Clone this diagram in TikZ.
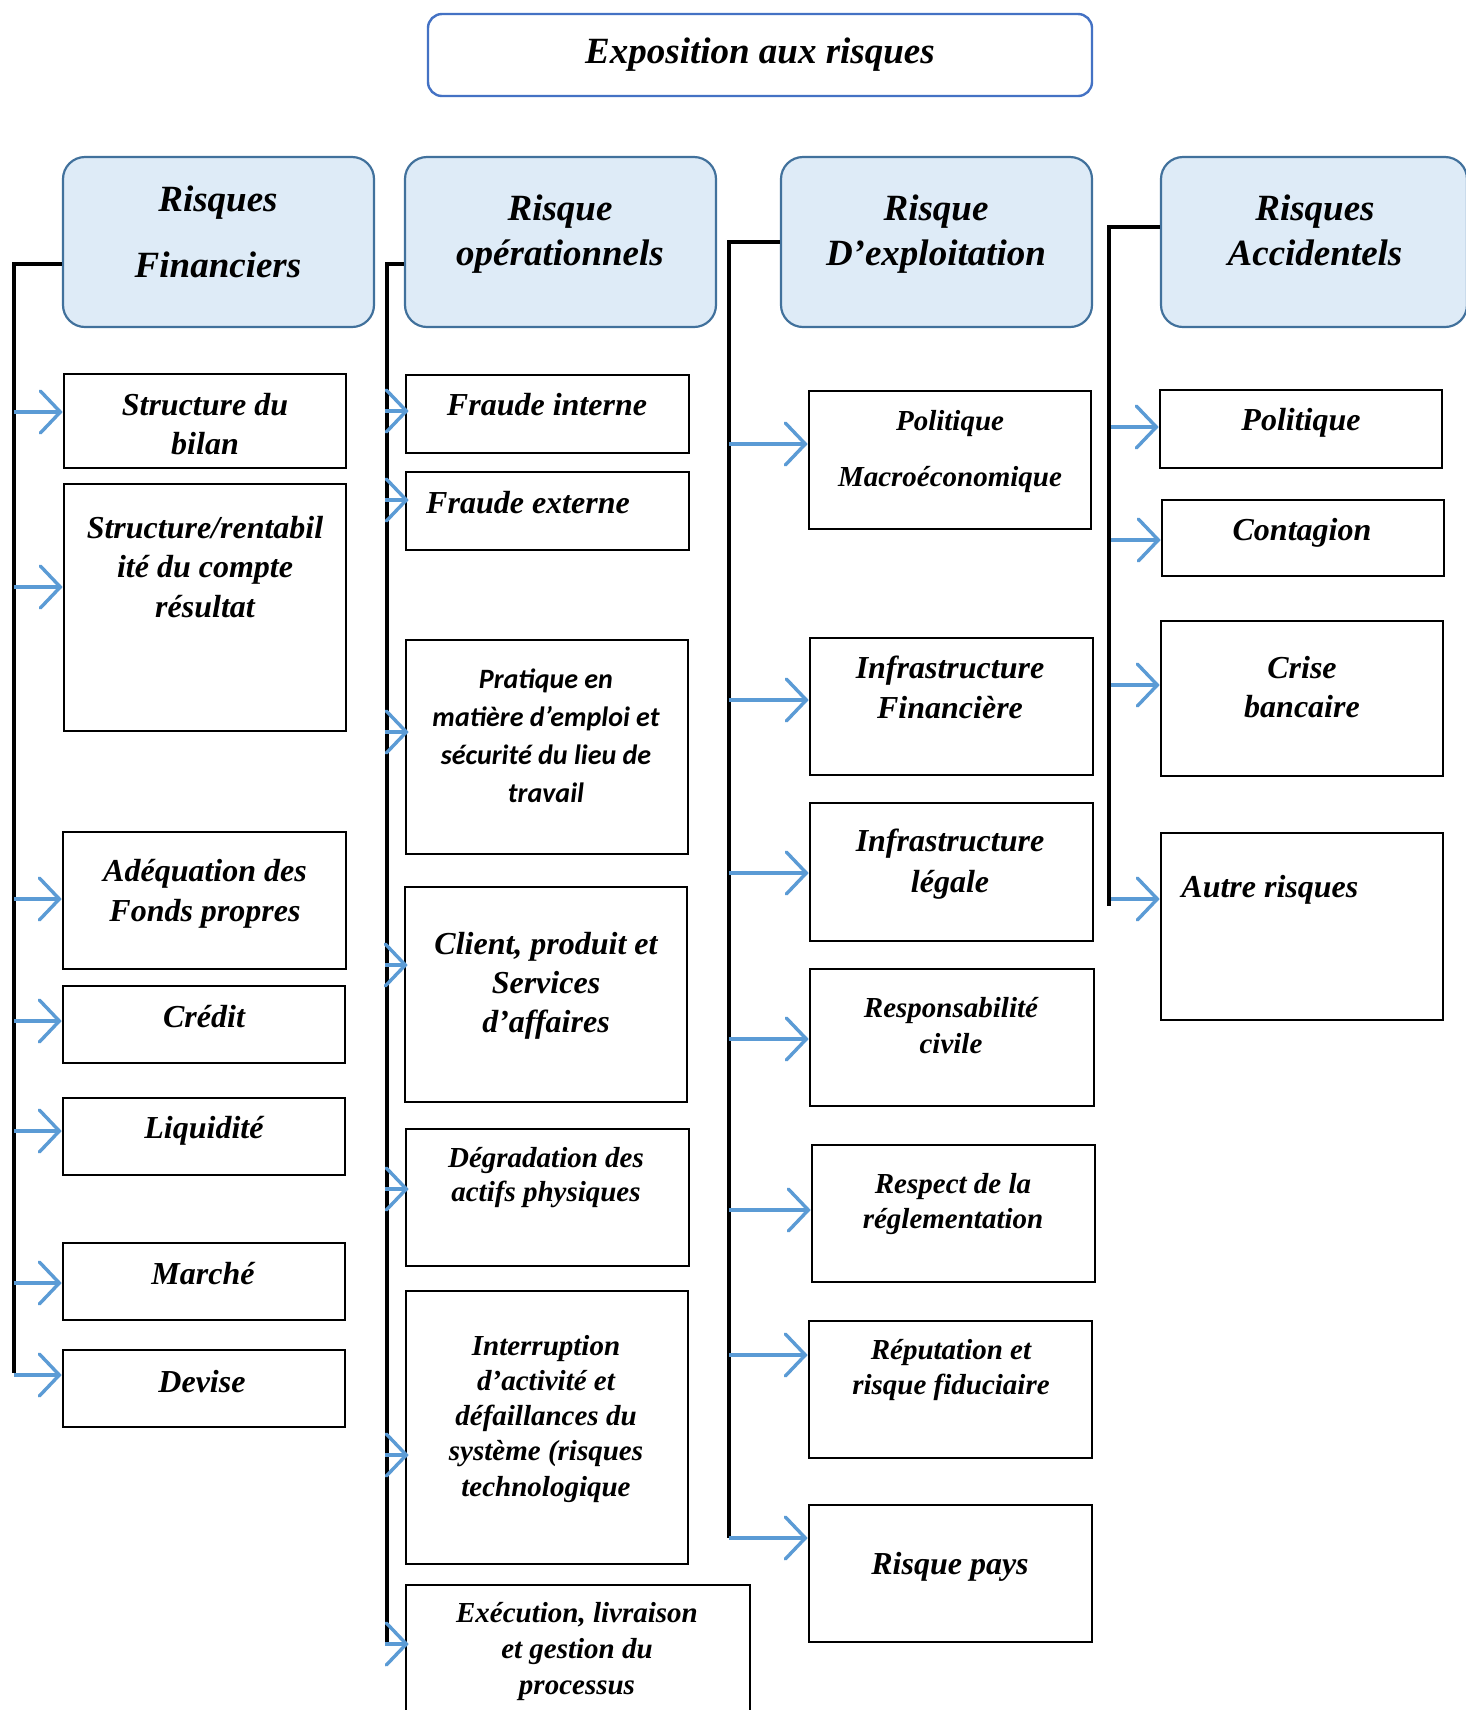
\documentclass[tikz,border=0pt]{standalone}
\usepackage{fontspec}
\setmainfont{Liberation Serif}
\newfontfamily\calibfont{Carlito}
\usetikzlibrary{arrows.meta,fit}
\definecolor{arrblue}{HTML}{5B9BD5}
\definecolor{hdrfill}{HTML}{DEEBF7}
\definecolor{hdrdraw}{HTML}{41719C}
\definecolor{ttldraw}{HTML}{4472C4}
% bold italic at a given size / baseline skip
\newcommand\bfi[2]{\fontsize{#1}{#2}\selectfont\bfseries\itshape}

\begin{document}
% text nodes are placed by the baseline of their last line
\begin{tikzpicture}[x=0.5pt,y=-0.5pt,
  hdr/.style={draw=hdrdraw, fill=hdrfill, line width=1.1pt, rounded corners=11pt, inner sep=0pt},
  ttl/.style={draw=ttldraw, line width=1.2pt, rounded corners=7pt, inner sep=0pt},
  item/.style={draw=black, line width=1.3pt, inner sep=0pt},
  lbl/.style={inner sep=0pt, align=center, anchor=base},
  conn/.style={draw=black, line width=1.6pt},
  arr/.style={draw=arrblue, line width=1.7pt, -{Straight Barb[length=10pt,width=21pt,line cap=round]}}]

\path[use as bounding box, fill=white] (0,0) rectangle (1466,1710);

% ---- title ----
\node[ttl, fit={(428,14) (1092,96)}] (title) {};
\node[lbl, font=\bfi{18.5}{22}] (title-t) at (760,63) {Exposition aux risques};

% ---- category headers ----
\node[hdr, fit={(63,157) (374,327)}] (hfin) {};
\node[lbl, font=\bfi{18.5}{33}] (hfin-t) at (218,277) {Risques\\Financiers};
\node[hdr, fit={(405,157) (716,327)}] (hop) {};
\node[lbl, font=\bfi{18.5}{22.5}] (hop-t) at (560,265) {Risque\\opérationnels};
\node[hdr, fit={(781,157) (1092,327)}] (hex) {};
\node[lbl, font=\bfi{18.5}{22.5}] (hex-t) at (936,265) {Risque\\D’exploitation};
\node[hdr, fit={(1161,157) (1467,327)}] (hac) {};
\node[lbl, font=\bfi{18.5}{22.5}] (hac-t) at (1315,265) {Risques\\Accidentels};

% ---- trunk lines ----
\coordinate (c1t) at (14,264);   \coordinate (c1b) at (14,1373);
\coordinate (c2t) at (387,264);  \coordinate (c2b) at (387,1645);
\coordinate (c3t) at (729,242);  \coordinate (c3b) at (729,1538);
\coordinate (c4t) at (1109,227); \coordinate (c4b) at (1109,906);
\draw[conn] (c1t -| hfin.west) -- (c1t) -- (c1b);
\draw[conn] (c2t -| hop.west) -- (c2t) -- (c2b);
\draw[conn] (c3t -| hex.west) -- (c3t) -- (c3b);
\draw[conn] (c4t -| hac.west) -- (c4t) -- (c4b);

% ---- financial risks ----
\node[item, fit={(64,374) (346,468)}] (bilan) {};
\node[lbl, font=\bfi{16}{19.5}] (bilan-t) at (205,454) {Structure du\\bilan};
\node[item, fit={(64,484) (346,731)}] (rentab) {};
\node[lbl, font=\bfi{16}{19.75}] (rentab-t) at (205,617) {Structure/rentabil\\ité du compte\\résultat};
\node[item, fit={(63,832) (346,969)}] (adeq) {};
\node[lbl, font=\bfi{16}{20}] (adeq-t) at (205,921) {Adéquation des\\Fonds propres};
\node[item, fit={(63,986) (345,1063)}] (credit) {};
\node[lbl, font=\bfi{16}{19.5}] (credit-t) at (204,1027) {Crédit};
\node[item, fit={(63,1098) (345,1175)}] (liq) {};
\node[lbl, font=\bfi{16}{19.5}] (liq-t) at (204,1138) {Liquidité};
\node[item, fit={(63,1243) (345,1320)}] (marche) {};
\node[lbl, font=\bfi{16}{19.5}] (marche-t) at (203,1284) {Marché};
\node[item, fit={(63,1350) (345,1427)}] (devise) {};
\node[lbl, font=\bfi{16}{19.5}] (devise-t) at (202,1392) {Devise};

\foreach \n/\y in {bilan/412, rentab/587, adeq/899, credit/1021, liq/1131, marche/1283, devise/1375}{
  \coordinate (s-\n) at (14,\y);
  \draw[arr] (s-\n) -- (s-\n -| \n.west);
}

% ---- operational risks ----
\node[item, fit={(406,375) (689,453)}] (fint) {};
\node[lbl, font=\bfi{16}{19.5}] (fint-t) at (547,415) {Fraude interne};
\node[item, fit={(406,472) (689,550)}] (fext) {};
\node[lbl, font=\bfi{16}{19.5}] (fext-t) at (528,513) {Fraude externe};
\node[item, fit={(406,640) (688,854)}] (prat) {};
\node[lbl, font={\calibfont\fontsize{14}{19}\selectfont\bfseries\itshape}] (prat-t) at (546,802)
  {Pratique en\\matière d’emploi et\\sécurité du lieu de\\travail};
\node[item, fit={(405,887) (687,1102)}] (client) {};
\node[lbl, font=\bfi{16}{19.5}] (client-t) at (546,1032) {Client, produit et\\Services\\d’affaires};
\node[item, fit={(406,1129) (689,1266)}] (degr) {};
\node[lbl, font=\bfi{14.5}{17}] (degr-t) at (546,1201) {Dégradation des\\actifs physiques};
\node[item, fit={(406,1291) (688,1564)}] (interr) {};
\node[lbl, font=\bfi{14.5}{17.6}] (interr-t) at (546,1496)
  {Interruption\\d’activité et\\défaillances du\\système (risques\\technologique};
\node[item, fit={(406,1585) (750,1730)}] (exec) {};
\node[lbl, font=\bfi{14.5}{18}] (exec-t) at (577,1694) {Exécution, livraison\\et gestion du\\processus};

\foreach \n/\y in {fint/411, fext/500, prat/732, client/965, degr/1189, interr/1455, exec/1644}{
  \coordinate (s-\n) at (385,\y);
  \draw[arr] (s-\n) -- ([xshift=2pt]s-\n -| \n.west);
}

% ---- operating risks ----
\node[item, fit={(809,391) (1091,529)}] (polm) {};
\node[lbl, font=\bfi{14.5}{28}] (polm-t) at (950,486) {Politique\\Macroéconomique};
\node[item, fit={(810,638) (1093,775)}] (infin) {};
\node[lbl, font=\bfi{16}{20}] (infin-t) at (950,718) {Infrastructure\\Financière};
\node[item, fit={(810,803) (1093,941)}] (inleg) {};
\node[lbl, font=\bfi{16}{20.5}] (inleg-t) at (950,892) {Infrastructure\\légale};
\node[item, fit={(810,969) (1094,1106)}] (resp) {};
\node[lbl, font=\bfi{14.5}{18}] (resp-t) at (951,1053) {Responsabilité\\civile};
\node[item, fit={(812,1145) (1095,1282)}] (regl) {};
\node[lbl, font=\bfi{14.5}{17.5}] (regl-t) at (953,1228) {Respect de la\\réglementation};
\node[item, fit={(809,1321) (1092,1458)}] (reput) {};
\node[lbl, font=\bfi{14.5}{17.5}] (reput-t) at (951,1394) {Réputation et\\risque fiduciaire};
\node[item, fit={(809,1505) (1092,1642)}] (pays) {};
\node[lbl, font=\bfi{16}{19.5}] (pays-t) at (950,1574) {Risque pays};

\foreach \n/\y in {polm/444, infin/700, inleg/873, resp/1039, regl/1210, reput/1355, pays/1538}{
  \coordinate (s-\n) at (729,\y);
  \draw[arr] (s-\n) -- (s-\n -| \n.west);
}

% ---- accidental risks ----
\node[item, fit={(1160,390) (1442,468)}] (pol) {};
\node[lbl, font=\bfi{16}{19.5}] (pol-t) at (1301,430) {Politique};
\node[item, fit={(1162,500) (1444,576)}] (cont) {};
\node[lbl, font=\bfi{16}{19.5}] (cont-t) at (1302,540) {Contagion};
\node[item, fit={(1161,621) (1443,776)}] (crise) {};
\node[lbl, font=\bfi{16}{19.5}] (crise-t) at (1302,717) {Crise\\bancaire};
\node[item, fit={(1161,833) (1443,1020)}] (autre) {};
\node[lbl, font=\bfi{16}{19.5}, anchor=base west] (autre-t) at (1181,897) {Autre risques};

\foreach \n/\y in {pol/427, cont/540, crise/685, autre/899}{
  \coordinate (s-\n) at (1111,\y);
  \draw[arr] (s-\n) -- (s-\n -| \n.west);
}
\end{tikzpicture}
\end{document}
